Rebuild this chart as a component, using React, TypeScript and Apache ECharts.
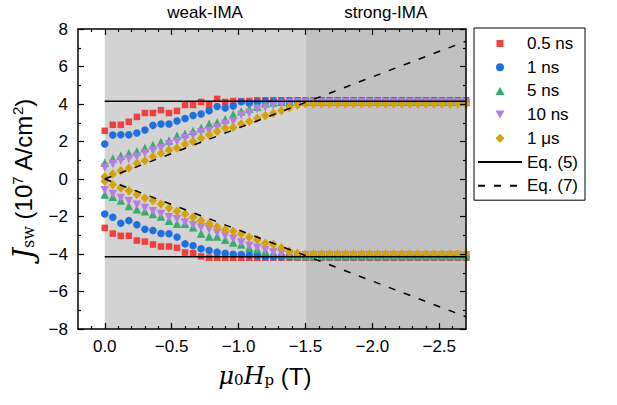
import React, { useEffect, useRef } from 'react';
import * as echarts from 'echarts';

// Field values (T), one per measured point
const fieldT = [
  0, -0.06, -0.12, -0.18, -0.24, -0.3, -0.36, -0.42, -0.48, -0.54,
  -0.6, -0.66, -0.72, -0.78, -0.84, -0.9, -0.96, -1.02, -1.08, -1.14,
  -1.2, -1.26, -1.32, -1.38, -1.44, -1.5, -1.56, -1.62, -1.68, -1.74,
  -1.8, -1.86, -1.92, -1.98, -2.04, -2.1, -2.16, -2.22, -2.28, -2.34,
  -2.4, -2.46, -2.52, -2.58, -2.64, -2.7,
];

const ns05Up = [
  2.57, 2.89, 2.89, 3.05, 3.31, 3.52, 3.52, 3.67, 3.52, 3.63,
  3.95, 3.95, 4.11, 3.96, 4.27, 4.11, 4.16, 4.15, 4.16, 4.2,
  4.2, 4.2, 4.2, 4.2, 4.2, 4.2, 4.2, 4.2, 4.2, 4.2,
  4.2, 4.2, 4.2, 4.2, 4.2, 4.2, 4.2, 4.2, 4.2, 4.2,
  4.2, 4.2, 4.2, 4.2, 4.2, 4.2,
];
const ns05Down = [
  -2.61, -2.91, -3.03, -3.03, -3.28, -3.34, -3.49, -3.6, -3.6, -3.67,
  -3.92, -3.96, -4.13, -4.2, -4.2, -4.2, -4.2, -4.2, -4.2, -4.2,
  -4.2, -4.2, -4.2, -4.2, -4.2, -4.2, -4.2, -4.2, -4.2, -4.2,
  -4.2, -4.2, -4.2, -4.2, -4.2, -4.2, -4.2, -4.2, -4.2, -4.2,
  -4.2, -4.2, -4.2, -4.2, -4.2, -4.2,
];
const ns1Up = [
  1.87, 2.35, 2.36, 2.36, 2.45, 2.61, 2.86, 2.93, 2.93, 3.09,
  3.23, 3.39, 3.47, 3.64, 3.87, 3.79, 3.89, 4.12, 4.04, 4.11,
  4.15, 4.15, 4.15, 4.15, 4.15, 4.15, 4.15, 4.15, 4.15, 4.15,
  4.15, 4.15, 4.15, 4.15, 4.15, 4.15, 4.15, 4.15, 4.15, 4.15,
  4.15, 4.15, 4.15, 4.15, 4.15, 4.15,
];
const ns1Down = [
  -1.87, -2.04, -2.36, -2.22, -2.44, -2.68, -2.75, -2.91, -2.92, -3.1,
  -3.46, -3.56, -3.72, -3.81, -3.9, -3.96, -4.01, -4.03, -4.05, -4.08,
  -4.15, -4.15, -4.15, -4.15, -4.15, -4.15, -4.15, -4.15, -4.15, -4.15,
  -4.15, -4.15, -4.15, -4.15, -4.15, -4.15, -4.15, -4.15, -4.15, -4.15,
  -4.15, -4.15, -4.15, -4.15, -4.15, -4.15,
];
const ns5Up = [
  0.87, 1.1, 1.24, 1.38, 1.48, 1.66, 1.82, 1.97, 2.06, 2.31,
  2.42, 2.57, 2.72, 2.95, 3.03, 3.19, 3.45, 3.62, 3.75, 3.86,
  4.04, 4.08, 4.12, 4.12, 4.12, 4.12, 4.12, 4.12, 4.12, 4.12,
  4.12, 4.12, 4.12, 4.12, 4.12, 4.12, 4.12, 4.12, 4.12, 4.12,
  4.12, 4.12, 4.12, 4.12, 4.12, 4.12,
];
const ns5Down = [
  -0.83, -0.94, -1.15, -1.44, -1.61, -1.72, -1.86, -2.0, -2.22, -2.39,
  -2.39, -2.57, -2.9, -3.07, -3.07, -3.24, -3.39, -3.49, -3.67, -3.74,
  -3.85, -3.96, -4.0, -4.05, -4.1, -4.1, -4.1, -4.1, -4.1, -4.1,
  -4.1, -4.1, -4.1, -4.1, -4.1, -4.1, -4.1, -4.1, -4.1, -4.1,
  -4.1, -4.1, -4.1, -4.1, -4.1, -4.1,
];
const ns10Up = [
  0.6, 0.8, 0.97, 1.08, 1.19, 1.37, 1.51, 1.65, 1.86, 2.0,
  2.18, 2.32, 2.5, 2.58, 2.75, 2.93, 3.07, 3.42, 3.51, 3.73,
  3.81, 3.92, 4.02, 4.05, 4.08, 4.08, 4.08, 4.08, 4.08, 4.08,
  4.08, 4.08, 4.08, 4.08, 4.08, 4.08, 4.08, 4.08, 4.08, 4.08,
  4.08, 4.08, 4.08, 4.08, 4.08, 4.08,
];
const ns10Down = [
  -0.6, -0.8, -1.01, -1.19, -1.37, -1.54, -1.72, -1.86, -2.04, -2.15,
  -2.32, -2.47, -2.59, -2.68, -2.86, -3.03, -3.18, -3.39, -3.56, -3.67,
  -3.78, -3.92, -3.96, -4.04, -4.07, -4.07, -4.07, -4.07, -4.07, -4.07,
  -4.07, -4.07, -4.07, -4.07, -4.07, -4.07, -4.07, -4.07, -4.07, -4.07,
  -4.07, -4.07, -4.07, -4.07, -4.07, -4.07,
];
const us1Up = [
  0.12, 0.27, 0.44, 0.59, 0.84, 0.97, 1.19, 1.37, 1.54, 1.65,
  1.86, 2.0, 2.18, 2.36, 2.54, 2.71, 2.75, 2.93, 3.07, 3.24,
  3.39, 3.51, 3.65, 3.81, 3.95, 4.03, 4.02, 4.02, 4.02, 4.02,
  4.02, 4.02, 4.02, 4.02, 4.02, 4.02, 4.02, 4.02, 4.02, 4.02,
  4.02, 4.02, 4.02, 4.02, 4.02, 4.02,
];
const us1Down = [
  -0.12, -0.3, -0.48, -0.62, -0.83, -1.01, -1.15, -1.33, -1.54, -1.72,
  -1.86, -2.04, -2.22, -2.39, -2.54, -2.71, -2.78, -2.93, -3.1, -3.24,
  -3.42, -3.49, -3.67, -3.85, -3.96, -4.03, -4.0, -4.0, -4.0, -4.0,
  -4.0, -4.0, -4.0, -4.0, -4.0, -4.0, -4.0, -4.0, -4.0, -4.0,
  -4.0, -4.0, -4.0, -4.0, -4.0, -4.0,
];

// Model curves
const eq5Level = 4.15;
const eq5Field = [0, -2.7];
const eq7Field = [0, -2.7];
const eq7Value = [0, 7.35];

// Regions
const weakRange = [0, -1.5];
const strongRange = [-1.5, -2.7];

// Ticks
const xMajor = [0, -0.5, -1, -1.5, -2, -2.5];
const xMinor = [
  0.1, -0.1, -0.2, -0.3, -0.4, -0.6, -0.7, -0.8, -0.9, -1.1, -1.2, -1.3, -1.4,
  -1.6, -1.7, -1.8, -1.9, -2.1, -2.2, -2.3, -2.4, -2.6,
];

const FONT = 'Liberation Sans';

const seriesDefs = [
  { name: '0.5 ns', up: ns05Up, down: ns05Down, symbol: 'rect', size: 6.5, rot: 0, color: '#ef3f3f',
    icon: 'path://M0 0M44 16M18.5 4.5h7v7h-7Z' },
  { name: '1 ns', up: ns1Up, down: ns1Down, symbol: 'circle', size: 7.5, rot: 0, color: '#1f6fde',
    icon: 'path://M0 0M44 16M18 8a4 4 0 1 0 8 0a4 4 0 1 0 -8 0Z' },
  { name: '5 ns', up: ns5Up, down: ns5Down, symbol: 'triangle', size: 8.5, rot: 0, color: '#3aab6f',
    icon: 'path://M0 0M44 16M22 4L26.5 12H17.5Z' },
  { name: '10 ns', up: ns10Up, down: ns10Down, symbol: 'triangle', size: 8.5, rot: 180, color: '#b47fe0',
    icon: 'path://M0 0M44 16M17.5 4H26.5L22 12Z' },
  { name: '1 μs', up: us1Up, down: us1Down, symbol: 'diamond', size: [8.5, 9.5], rot: 0, color: '#d4a20a',
    icon: 'path://M0 0M44 16M22 3.5L26.5 8L22 12.5L17.5 8Z' },
];

const xFmt = (v: number) => (Math.abs(v) < 1e-9 ? '0.0' : (v < 0 ? '\u2212' : '') + Math.abs(v).toFixed(1));
const yFmt = (v: number) => (v < 0 ? '\u2212' + Math.abs(v) : String(v));

function makeX(position: string, ticks: number[], len: number, labels: boolean, line: boolean) {
  return {
    type: 'value',
    position,
    min: -2.7,
    max: 0.2,
    inverse: true,
    z: 10,
    axisLine: { show: line, onZero: false, lineStyle: { color: '#000', width: 1.5 } },
    axisTick: { show: true, inside: true, length: len, customValues: ticks, lineStyle: { color: '#000', width: 1.2 } },
    axisLabel: labels
      ? { show: true, customValues: xMajor, formatter: xFmt, color: '#000', fontSize: 17, fontFamily: FONT, margin: 9 }
      : { show: false },
    splitLine: { show: false },
  };
}

function makeY(position: string, labels: boolean) {
  return {
    type: 'value',
    position,
    min: -8,
    max: 8,
    interval: 2,
    z: 10,
    axisLine: { show: true, onZero: false, lineStyle: { color: '#000', width: 1.5 } },
    axisTick: { show: true, inside: true, length: 6, lineStyle: { color: '#000', width: 1.2 } },
    minorTick: { show: true, splitNumber: 2, length: 3, lineStyle: { color: '#000', width: 1.2 } },
    axisLabel: labels
      ? { show: true, formatter: yFmt, color: '#000', fontSize: 17, fontFamily: FONT, margin: 10 }
      : { show: false },
    splitLine: { show: false },
    minorSplitLine: { show: false },
  };
}

const hiddenSymbol = { color: 'rgba(0,0,0,0)', borderColor: 'rgba(0,0,0,0)', borderWidth: 0, opacity: 0 };

export default function App() {
  const ref = useRef<HTMLDivElement>(null);
  useEffect(() => {
    const chart = echarts.init(ref.current!, null, { renderer: 'svg' });

    const scatterSeries = seriesDefs.map((d, k) => ({
      type: 'scatter',
      name: d.name,
      symbol: d.symbol,
      symbolSize: d.size,
      symbolRotate: d.rot,
      itemStyle: { color: d.color, opacity: 1 },
      z: 3 + k,
      data: [
        ...fieldT.map((x, i) => [x, d.up[i]]),
        ...fieldT.map((x, i) => [x, d.down[i]]),
      ],
    }));

    const option: any = {
      animation: false,
      backgroundColor: '#fff',
      grid: { left: 78, right: 151, top: 29, bottom: 76, containLabel: false },
      xAxis: [
        {
          ...makeX('bottom', xMajor, 6, true, true),
          name: '{m|μ}{s|0}{m|H}{s|p}{t| (T)}',
          nameLocation: 'middle',
          nameGap: 35,
          nameTextStyle: {
            fontSize: 22,
            fontFamily: FONT,
            color: '#000',
            rich: {
              m: { fontFamily: 'DejaVu Serif', fontStyle: 'italic', fontSize: 24, color: '#000' },
              s: { fontFamily: 'DejaVu Serif', fontSize: 15, color: '#000', padding: [8, 0, 0, 0] },
              t: { fontFamily: FONT, fontSize: 24, color: '#000', padding: [0, 14, 0, 0] },
            },
          },
        },
        makeX('top', xMajor, 6, false, true),
        makeX('bottom', xMinor, 3, false, false),
        makeX('top', xMinor, 3, false, false),
      ],
      yAxis: [
        {
          ...makeY('left', true),
          name: '{j|J}{s|sw} (10{p|7} A/cm{p|2})',
          nameLocation: 'middle',
          nameRotate: 90,
          nameGap: 33,
          nameTextStyle: {
            fontSize: 24,
            fontFamily: FONT,
            color: '#000',
            rich: {
              j: { fontFamily: 'DejaVu Serif', fontStyle: 'italic', fontSize: 28, color: '#000' },
              s: { fontFamily: 'DejaVu Serif', fontSize: 16, color: '#000', padding: [10, 0, 0, 0] },
              p: { fontFamily: FONT, fontSize: 15, color: '#000', padding: [0, 0, 12, 0] },
            },
          },
        },
        makeY('right', false),
      ],
      legend: {
        orient: 'vertical',
        left: 474,
        top: 28,
        padding: [7, 7, 6, 3],
        itemWidth: 44,
        itemHeight: 16,
        itemGap: 6.7,
        selectedMode: false,
        backgroundColor: '#fff',
        borderColor: '#000',
        borderWidth: 1,
        borderRadius: 0,
        textStyle: { fontSize: 17, fontFamily: FONT, color: '#000' },
        data: [
          ...seriesDefs.map((d) => ({ name: d.name, icon: d.icon })),
          { name: 'Eq. (5)', itemStyle: hiddenSymbol },
          { name: 'Eq. (7)', itemStyle: hiddenSymbol },
        ],
      },
      series: [
        {
          type: 'line',
          name: 'regions',
          data: [],
          z: 1,
          silent: true,
          markArea: {
            silent: true,
            data: [
              [
                { xAxis: weakRange[0], name: 'weak-IMA', itemStyle: { color: '#d3d3d3' } },
                { xAxis: weakRange[1] },
              ],
              [
                { xAxis: strongRange[0], name: 'strong-IMA', itemStyle: { color: '#c1c1c1' } },
                { xAxis: strongRange[1] },
              ],
            ],
            label: {
              show: true,
              position: 'top',
              distance: 8,
              color: '#000',
              fontSize: 17,
              fontFamily: FONT,
            },
          },
        },
        ...scatterSeries,
        {
          type: 'line',
          name: 'Eq. (5)',
          symbol: 'none',
          z: 20,
          lineStyle: { color: '#000', width: 1.5 },
          itemStyle: { color: '#000' },
          data: eq5Field.map((x) => [x, eq5Level]),
        },
        {
          type: 'line',
          name: 'Eq. (5)',
          symbol: 'none',
          z: 20,
          lineStyle: { color: '#000', width: 1.5 },
          itemStyle: { color: '#000' },
          data: eq5Field.map((x) => [x, -eq5Level]),
        },
        {
          type: 'line',
          name: 'Eq. (7)',
          symbol: 'none',
          z: 20,
          lineStyle: { color: '#000', width: 1.5, type: [7, 9] },
          itemStyle: { color: '#000' },
          data: eq7Field.map((x, i) => [x, eq7Value[i]]),
        },
        {
          type: 'line',
          name: 'Eq. (7)',
          symbol: 'none',
          z: 20,
          lineStyle: { color: '#000', width: 1.5, type: [7, 9] },
          itemStyle: { color: '#000' },
          data: eq7Field.map((x, i) => [x, -eq7Value[i]]),
        },
      ],
    };

    chart.setOption(option);
    return () => chart.dispose();
  }, []);

  return <div ref={ref} style={{ position: 'absolute', left: 0, top: 0, width: 617, height: 405 }} />;
}
